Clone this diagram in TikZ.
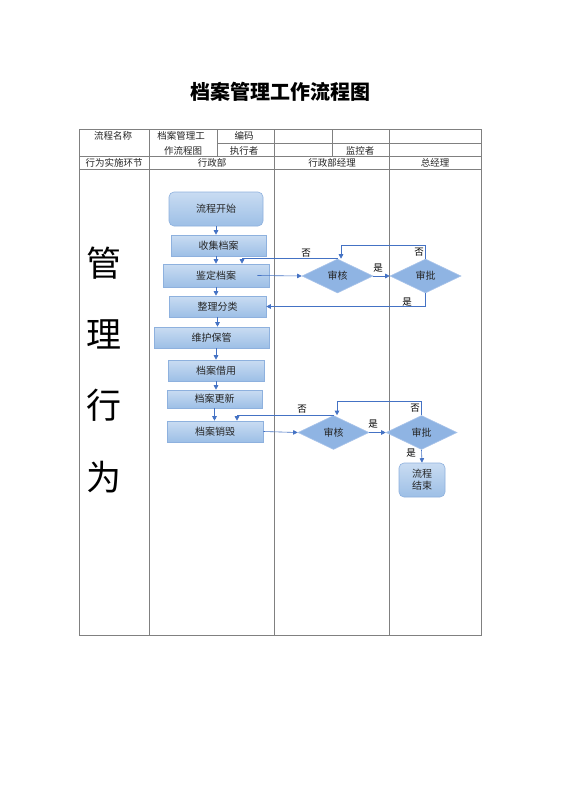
\documentclass[tikz,border=0pt]{standalone}
\usepackage{fontspec}
\setmainfont{Noto Sans CJK SC}
\usetikzlibrary{shapes.geometric,arrows.meta,calc}
\definecolor{gridc}{HTML}{808080}
\definecolor{boxtop}{HTML}{C9DCF2}
\definecolor{boxbot}{HTML}{9DBFE6}
\definecolor{boxline}{HTML}{8EB1DE}
\definecolor{diafill}{HTML}{8FB4E3}
\definecolor{dialine}{HTML}{A9C4EA}
\definecolor{arrc}{HTML}{4472C4}
\definecolor{txtc}{HTML}{262626}
\tikzset{
  grid/.style={draw=gridc, line width=0.8pt},
  celltext/.style={font=\fontsize{9.5}{10}\selectfont, text=txtc, inner sep=0pt},
  stepbox/.style={rectangle, draw=boxline, line width=0.6pt, top color=boxtop, bottom color=boxbot, inner sep=0pt, font=\fontsize{10}{12}\selectfont, text=txtc},
  roundbox/.style={stepbox, rounded corners=5pt},
  decision/.style={diamond, draw=dialine, line width=0.6pt, fill=diafill, inner sep=0pt, shape aspect=2.1, font=\fontsize{10}{12}\selectfont, text=txtc},
  arr/.style={draw=arrc, line width=0.6pt, -{Triangle[width=4.5pt,length=4.5pt]}},
  lbl/.style={font=\fontsize{9.5}{10}\selectfont, text=black, inner sep=0pt},
  bigchar/.style={font=\fontsize{35}{36}\selectfont, inner sep=0pt}
}
\begin{document}
\begin{tikzpicture}[x=1pt,y=-1pt]
\useasboundingbox (0,0) rectangle (560,792);
\fill[white] (0,0) rectangle (560,792);
% title
\node[font=\fontsize{20}{22}\selectfont\bfseries, inner sep=0pt] (title) at (280,92) {档案管理工作流程图};
% table frame
\draw[grid] (79,129) rectangle (481,635);
\draw[grid] (217,143) -- (481,143);
\draw[grid] (79,156) -- (481,156);
\draw[grid] (79,169) -- (481,169);
\draw[grid] (149,129) -- (149,635);
\draw[grid] (217,129) -- (217,156);
\draw[grid] (274,129) -- (274,635);
\draw[grid] (332,129) -- (332,156);
\draw[grid] (389,129) -- (389,635);
% table texts
\node[celltext] (t1) at (113,135.5) {流程名称};
\node[celltext] (t2) at (181,135.5) {档案管理工};
\node[celltext] (t3) at (183,151) {作流程图};
\node[celltext] (t4) at (244,136) {编码};
\node[celltext] (t5) at (244,151) {执行者};
\node[celltext] (t6) at (360,151) {监控者};
\node[celltext] (t7) at (114,163) {行为实施环节};
\node[celltext] (t8) at (212,163) {行政部};
\node[celltext] (t9) at (332,163) {行政部经理};
\node[celltext] (t10) at (435,163) {总经理};
% big characters
\node[bigchar] (g1) at (104,263) {管};
\node[bigchar] (g2) at (104,334) {理};
\node[bigchar] (g3) at (104,405) {行};
\node[bigchar] (g4) at (104,477) {为};
% boxes
\node[roundbox, minimum width=94pt, minimum height=34pt] (start) at (216,209) {流程开始};
\node[stepbox, minimum width=95pt, minimum height=21pt] (collect) at (218.5,245.5) {收集档案};
\node[stepbox, minimum width=106pt, minimum height=23pt] (ident) at (216,275.5) {鉴定档案};
\node[stepbox, minimum width=97pt, minimum height=21pt] (sort) at (217.5,306.5) {整理分类};
\node[stepbox, minimum width=115pt, minimum height=21pt] (maint) at (211.5,337.5) {维护保管};
\node[stepbox, minimum width=96pt, minimum height=21pt] (borrow) at (216,370.5) {档案借用};
\node[stepbox, minimum width=95pt, minimum height=18pt] (update) at (214.5,399) {档案更新};
\node[stepbox, minimum width=96pt, minimum height=21pt] (destroy) at (215,431.5) {档案销毁};
\node[roundbox, minimum width=46pt, minimum height=34pt, align=center, font=\fontsize{10}{12}\selectfont] (finish) at (422,480) {流程\\结束};
% decisions
\node[decision, minimum width=71pt, minimum height=34pt] (d1) at (337.5,276) {审核};
\node[decision, minimum width=71pt, minimum height=34pt] (d2) at (425.5,276) {审批};
\node[decision, minimum width=71pt, minimum height=34pt] (d3) at (333.5,432.5) {审核};
\node[decision, minimum width=71pt, minimum height=34pt] (d4) at (421.5,432.5) {审批};
% vertical flow
\draw[arr] (start.south) -- (start.south |- collect.north);
\draw[arr] (ident.north |- collect.south) -- (ident.north);
\draw[arr] (ident.south) -- (ident.south |- sort.north);
\draw[arr] (sort.south) -- (sort.south |- maint.north);
\draw[arr] (borrow.north |- maint.south) -- (borrow.north);
\draw[arr] (borrow.south) -- (borrow.south |- update.north);
\draw[arr] (update.south) -- (update.south |- destroy.north);
% first review loop
\draw[arr] ($(ident.east)+(-12,0)$) -- (d1.west);
\draw[arr] (d1.east) -- (d2.west);
\draw[arr] (d1.north) -| ($(ident.north)+(26,0)$);
\draw[arr] (d2.north) -- ++(0,-13) -| ($(d1.north)+(3.5,0)$);
\draw[arr] (d2.south) |- (sort.east);
% second review loop
\draw[arr] (destroy.east) -- (d3.west);
\draw[arr] (d3.east) -- (d4.west);
\draw[arr] (d3.north) -| ($(destroy.north)+(22,0)$);
\draw[arr] (d4.north) -- ++(0,-14) -| ($(d3.north)+(3.5,0)$);
\draw[arr] (d4.south) -- (finish.north);
% labels
\node[lbl] (l1) at (306,253) {否};
\node[lbl] (l2) at (419,252) {否};
\node[lbl] (l3) at (378,268) {是};
\node[lbl] (l4) at (407,302) {是};
\node[lbl] (l5) at (302,409) {否};
\node[lbl] (l6) at (415,408) {否};
\node[lbl] (l7) at (373,424) {是};
\node[lbl] (l8) at (411,453) {是};
\end{tikzpicture}
\end{document}
